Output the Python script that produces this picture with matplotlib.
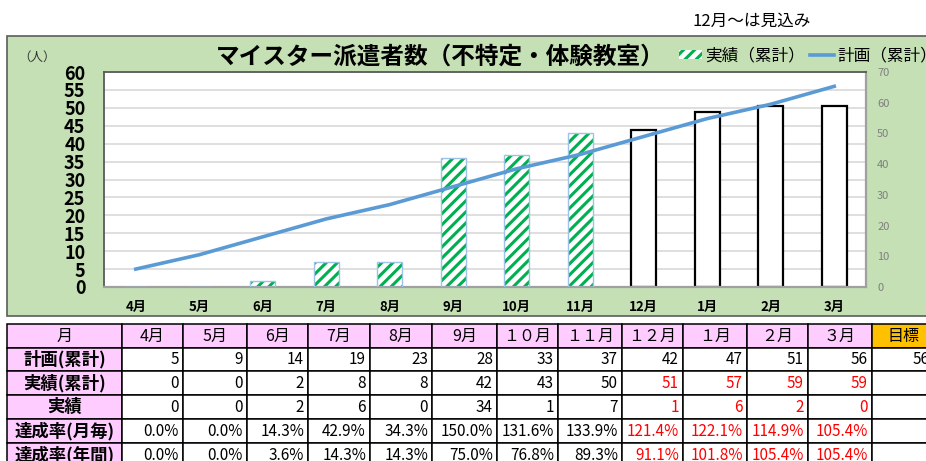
import numpy as np
import matplotlib
matplotlib.use('Agg')
import matplotlib.pyplot as plt
from matplotlib.patches import Rectangle

plt.rcParams['font.family'] = ['Noto Sans CJK JP', 'DejaVu Sans']
plt.rcParams['hatch.linewidth'] = 2.2

# ---------------- data ----------------
months = ['4月', '5月', '6月', '7月', '8月', '9月', '10月', '11月', '12月', '1月', '2月', '3月']
table_months = ['4月', '5月', '6月', '7月', '8月', '9月', '１０月', '１１月', '１２月', '１月', '２月', '３月']
plan_cum = [5, 9, 14, 19, 23, 28, 33, 37, 42, 47, 51, 56]
actual_cum = [0, 0, 2, 8, 8, 42, 43, 50, 51, 57, 59, 59]
actual_monthly = [0, 0, 2, 6, 0, 34, 1, 7, 1, 6, 2, 0]
rate_monthly = [0.0, 0.0, 14.3, 42.9, 34.3, 150.0, 131.6, 133.9, 121.4, 122.1, 114.9, 105.4]
rate_annual = [0.0, 0.0, 3.6, 14.3, 14.3, 75.0, 76.8, 89.3, 91.1, 101.8, 105.4, 105.4]
target = 56
forecast_start = 8  # 12月～は見込み
row_labels = ['計画(累計)', '実績(累計)', '実績', '達成率(月毎)', '達成率(年間)']
left_ticks = list(range(0, 61, 5))
right_ticks = list(range(0, 71, 10))

# ---------------- figure ----------------
W, H = 926, 461
fig = plt.figure(figsize=(W / 100, H / 100), dpi=100)

tax = fig.add_axes([0, 0, 1, 1])
tax.set_xlim(0, W)
tax.set_ylim(H, 0)
tax.axis('off')
tax.add_patch(Rectangle((7, 36), 940, 280, fc='#c5e0b4', ec='#5b5b5b', lw=1.2, zorder=0))

ax = fig.add_axes([104 / W, (H - 287) / H, 762 / W, 215 / H])
ax.set_facecolor('white')
x = np.arange(len(months))
ax.set_xlim(-0.5, len(months) - 0.5)
ax.set_ylim(0, right_ticks[-1])

scale = right_ticks[-1] / left_ticks[-1]
for v in left_ticks[1:]:
    ax.axhline(v * scale, color='#d9d9d9', lw=1.2, zorder=1)

act = ax.bar(x[:forecast_start], actual_cum[:forecast_start], width=0.4, color='white',
             edgecolor='#00b050', hatch='///', linewidth=0, zorder=2)
ax.bar(x[:forecast_start], actual_cum[:forecast_start], width=0.4, fill=False,
       edgecolor='#9dc3e6', linewidth=1.0, zorder=3)
ax.bar(x[forecast_start:], actual_cum[forecast_start:], width=0.4, color='white',
       edgecolor='black', linewidth=1.6, zorder=2)

axl = ax.twinx()
axl.yaxis.tick_left()
ax.yaxis.tick_right()

ax.set_yticks(right_ticks)
ax.tick_params(axis='y', length=0, pad=8, labelsize=8, labelcolor='#7f7f7f')
ax.set_xticks(x, months)
ax.tick_params(axis='x', length=0, pad=9, labelsize=9.5)
for lb in ax.get_xticklabels():
    lb.set_fontweight('bold')
for side in ['left', 'top']:
    ax.spines[side].set_color('#595959')
    ax.spines[side].set_linewidth(1.3)
for side in ['right', 'bottom']:
    ax.spines[side].set_color('#a0a0a0')
    ax.spines[side].set_linewidth(1.6)

axl.set_ylim(0, left_ticks[-1])
line, = axl.plot(x, plan_cum, color='#5b9bd5', lw=2.6, zorder=5)
axl.set_yticks(left_ticks)
axl.tick_params(axis='y', length=0, pad=13.5, labelsize=13)
for lb in axl.get_yticklabels():
    lb.set_fontweight('bold')
for s in axl.spines.values():
    s.set_visible(False)

# texts
tax.text(37, 57, '（人）', fontsize=9, ha='center', va='center', color='#333333')
tax.text(440, 57, 'マイスター派遣者数（不特定・体験教室）', fontsize=17, fontweight='bold',
         ha='center', va='center')
tax.text(752, 21, '12月～は見込み', fontsize=12, ha='center', va='center')

fig.legend(handles=[act, line], labels=['実績（累計）', '計画（累計）'], ncol=2,
           loc='center left', bbox_to_anchor=(679 / W, 1 - 56 / H), frameon=False,
           borderaxespad=0, borderpad=0, handlelength=1.4, handleheight=0.5,
           handletextpad=0.2, columnspacing=0.3, fontsize=12)

# ---------------- table ----------------
col_edges = [7, 122, 183, 247, 308, 370, 432, 497, 558, 622, 683, 747, 808, 872, 934]
row_edges = [324, 348, 371, 395, 419, 443, 467]
pink = '#ffccff'
orange = '#ffc000'


def cell(c, r, fc):
    x0, x1 = col_edges[c], col_edges[c + 1]
    y0, y1 = row_edges[r], row_edges[r + 1]
    tax.add_patch(Rectangle((x0, y0), x1 - x0, y1 - y0, fc=fc, ec='black', lw=1.1, zorder=1))
    return (x0 + x1) / 2, x1, (y0 + y1) / 2


# header
cx, _, cy = cell(0, 0, pink)
tax.text(cx, cy, '月', fontsize=11.5, ha='center', va='center', zorder=2)
for i, m in enumerate(table_months):
    cx, _, cy = cell(i + 1, 0, pink)
    tax.text(cx, cy, m, fontsize=11.5, ha='center', va='center', zorder=2)
cx, _, cy = cell(13, 0, orange)
tax.text(cx, cy, '目標', fontsize=11.5, ha='center', va='center', zorder=2)

rows = [
    [str(v) for v in plan_cum],
    [str(v) for v in actual_cum],
    [str(v) for v in actual_monthly],
    ['{:.1f}%'.format(v) for v in rate_monthly],
    ['{:.1f}%'.format(v) for v in rate_annual],
]
for r, (lab, vals) in enumerate(zip(row_labels, rows)):
    cx, _, cy = cell(0, r + 1, pink)
    tax.text(cx, cy, lab, fontsize=12.5, fontweight='bold', ha='center', va='center', zorder=2)
    for i, v in enumerate(vals):
        _, xr, cy = cell(i + 1, r + 1, 'white')
        col = 'red' if (r >= 1 and i >= forecast_start) else 'black'
        tax.text(xr - 4, cy, v, fontsize=11, ha='right', va='center', color=col, zorder=2)
    _, xr, cy = cell(13, r + 1, 'white')
    if r == 0:
        tax.text(xr - 4, cy, str(target), fontsize=11, ha='right', va='center', zorder=2)

fig.savefig('out.png', dpi=100)
